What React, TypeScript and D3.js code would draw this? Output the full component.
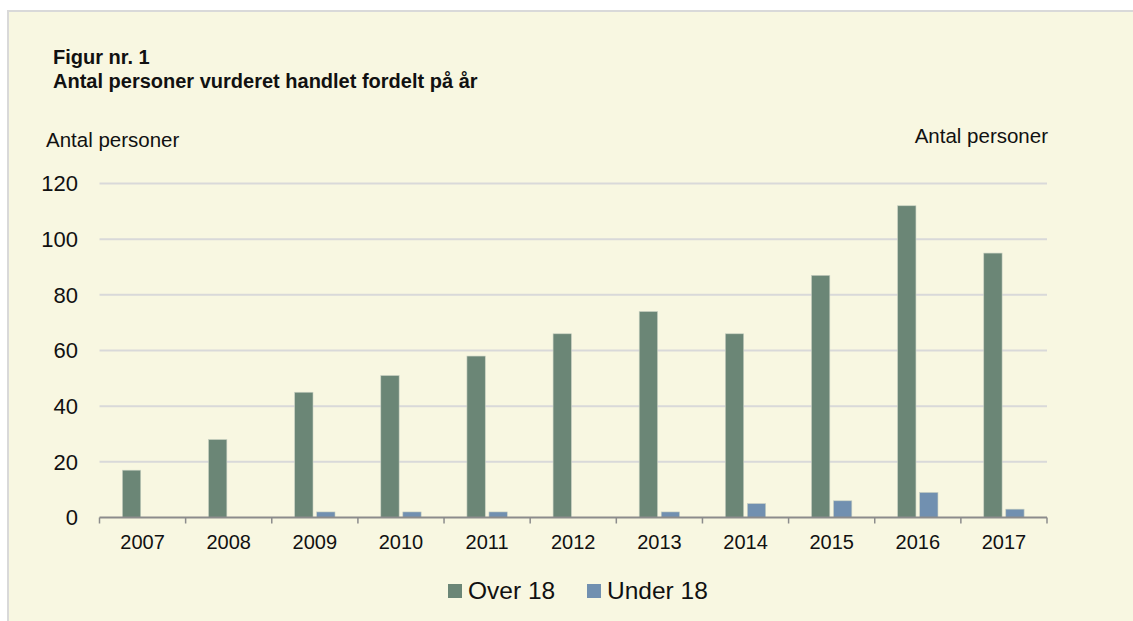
import { useMemo } from "react";
import * as d3 from "d3";

const WIDTH = 1133;
const HEIGHT = 621;
const PLOT = { left: 99.5, right: 1047, top: 183.5, bottom: 517.5 };

const years = ["2007", "2008", "2009", "2010", "2011", "2012", "2013", "2014", "2015", "2016", "2017"];
const over18 = [17, 28, 45, 51, 58, 66, 74, 66, 87, 112, 95];
const under18 = [0, 0, 2, 2, 2, 0, 2, 5, 6, 9, 3];
const seriesNames = ["Over 18", "Under 18"];
const seriesColors = ["#6b8676", "#7190b0"];
const yTicks = [0, 20, 40, 60, 80, 100, 120];

const FONT = "'Liberation Sans', Arial, Helvetica, sans-serif";

export default function App() {
  const x = useMemo(
    () => d3.scaleBand<string>().domain(years).range([PLOT.left, PLOT.right]).paddingInner(0).paddingOuter(0),
    []
  );
  const x1 = useMemo(
    () =>
      d3
        .scaleBand<string>()
        .domain(seriesNames)
        .range([0, x.bandwidth()])
        .paddingInner(0.168)
        .paddingOuter(1.04),
    [x]
  );
  const y = useMemo(() => d3.scaleLinear().domain([0, 120]).range([PLOT.bottom, PLOT.top]), []);

  const series = [over18, under18];
  const boundaries = [...years.map((yr) => x(yr) ?? 0), PLOT.right];

  return (
    <svg
      width={WIDTH}
      height={HEIGHT}
      style={{ position: "absolute", left: 0, top: 0, fontFamily: FONT }}
    >
      <rect x={0} y={0} width={WIDTH} height={HEIGHT} fill="#ffffff" />
      <rect x={8} y={11} width={WIDTH} height={HEIGHT} fill="#f8f7e1" stroke="#d9d9d9" strokeWidth={2} />

      <text x={53} y={64} fontSize={20} fontWeight="bold" fill="#111">
        Figur nr. 1
      </text>
      <text x={53} y={88} fontSize={20} fontWeight="bold" fill="#111">
        Antal personer vurderet handlet fordelt på år
      </text>

      <text x={46} y={147} fontSize={20.5} fill="#111">
        Antal personer
      </text>
      <text x={1048} y={143} fontSize={20.5} fill="#111" textAnchor="end">
        Antal personer
      </text>

      {yTicks.map((t) => (
        <g key={t}>
          {t !== 0 && (
            <line x1={PLOT.left} x2={PLOT.right} y1={y(t)} y2={y(t)} stroke="#d9d9d9" strokeWidth={2} />
          )}
          <text x={78} y={y(t)} dy="0.36em" fontSize={22} textAnchor="end" fill="#111">
            {t}
          </text>
        </g>
      ))}

      {years.map((yr, i) => (
        <g key={yr} transform={`translate(${x(yr)},0)`}>
          {series.map((vals, s) => {
            const v = vals[i];
            if (v <= 0) return null;
            return (
              <rect
                key={s}
                x={x1(seriesNames[s])}
                y={y(v)}
                width={x1.bandwidth()}
                height={y(0) - y(v)}
                fill={seriesColors[s]}
                stroke="#c8d0c2"
                strokeWidth={0.6}
              />
            );
          })}
          <text
            x={x.bandwidth() / 2}
            y={549}
            fontSize={20}
            textAnchor="middle"
            fill="#111"
          >
            {yr}
          </text>
        </g>
      ))}

      <line x1={PLOT.left} x2={PLOT.right} y1={y(0)} y2={y(0)} stroke="#8c8c8c" strokeWidth={2} />
      {boundaries.map((bx, i) => (
        <line key={i} x1={bx} x2={bx} y1={y(0)} y2={y(0) + 6} stroke="#8c8c8c" strokeWidth={1.5} />
      ))}

      {seriesNames.map((name, s) => {
        const lx = s === 0 ? 448 : 587;
        return (
          <g key={name}>
            <rect x={lx} y={584} width={14} height={14} fill={seriesColors[s]} />
            <text x={lx + 20} y={598.5} fontSize={24.5} fill="#111">
              {name}
            </text>
          </g>
        );
      })}
    </svg>
  );
}
